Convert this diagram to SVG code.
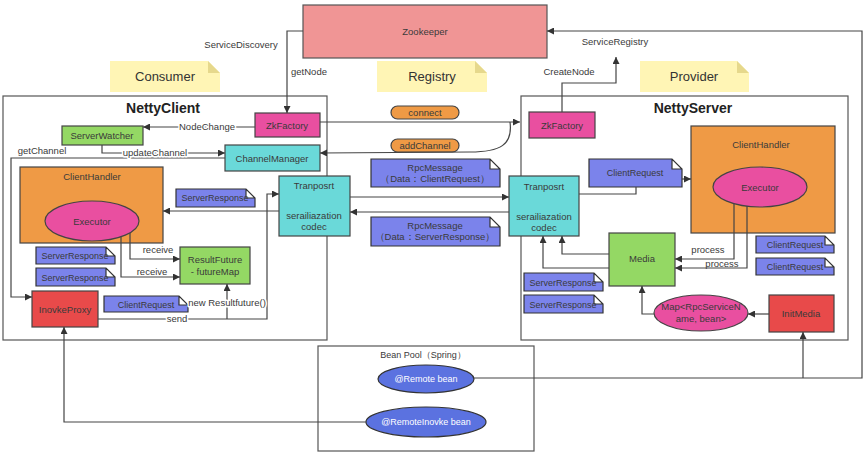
<svg xmlns="http://www.w3.org/2000/svg" width="865" height="455" viewBox="0 0 865 455">
<style>
text{font-family:"Liberation Sans",Arial,sans-serif;fill:#3a3a3a;font-size:9.5px;text-anchor:middle}
.t{font-size:14px;font-weight:bold;fill:#222}
.nt{font-size:13px;fill:#333}
.lbl{paint-order:stroke;stroke:#fff;stroke-width:3px;stroke-linejoin:round}
.sm{font-size:9px}
.wt{fill:#fff}
.box{fill:#fff;stroke:#555;stroke-width:1.2}
.zk{fill:#f09595;stroke:#555;stroke-width:1.2}
.pink{fill:#e94fa0;stroke:#444;stroke-width:1.2}
.green{fill:#94d864;stroke:#444;stroke-width:1.2}
.cyan{fill:#6ad9d9;stroke:#444;stroke-width:1.2}
.orange{fill:#ef9a45;stroke:#444;stroke-width:1.2}
.red{fill:#e84a4a;stroke:#444;stroke-width:1.2}
.bean{fill:#5b72e0;stroke:#333;stroke-width:1.2}
.note{fill:#7b83eb;stroke:#333;stroke-width:1.2}
.ynote{fill:#fff5b5}
.yfold{fill:#e6d88c}
.c{fill:none;stroke:#444;stroke-width:1.2}
.ca{fill:none;stroke:#444;stroke-width:1.2;marker-end:url(#arr)}
</style>
<defs>
<marker id="arr" viewBox="0 0 10 10" refX="10" refY="5" markerWidth="8" markerHeight="7" orient="auto" markerUnits="userSpaceOnUse"><path d="M0,0 L10,5 L0,10 z" fill="#333"/></marker>
</defs>
<rect width="865" height="455" fill="#fff"/>

<!-- containers -->
<g id="nettyClient"><rect class="box" x="3" y="96" width="324" height="244"/><text class="t" x="163" y="113">NettyClient</text></g>
<g id="nettyServer"><rect class="box" x="521" y="96" width="327" height="244"/><text class="t" x="693" y="113">NettyServer</text></g>
<g id="beanPool"><rect class="box" x="318" y="346" width="216" height="105"/><text class="sm" x="423" y="358">Bean Pool（Spring）</text></g>

<!-- yellow notes -->
<g id="consumer"><path class="ynote" d="M110 61 H208 L220 73 V92 H110 Z"/><path class="yfold" d="M208 61 L220 73 H208 Z"/><text class="nt" x="165" y="81">Consumer</text></g>
<g id="registry"><path class="ynote" d="M377 61 H475 L487 73 V92 H377 Z"/><path class="yfold" d="M475 61 L487 73 H475 Z"/><text class="nt" x="432" y="81">Registry</text></g>
<g id="provider"><path class="ynote" d="M640 61 H737 L749 73 V92 H640 Z"/><path class="yfold" d="M737 61 L749 73 H737 Z"/><text class="nt" x="694" y="81">Provider</text></g>

<g id="zookeeper"><rect class="zk" x="303" y="5" width="244" height="53"/><text x="425" y="35">Zookeeper</text></g>

<!-- consumer side -->
<g id="zkFactoryL"><rect class="pink" x="255" y="113" width="65" height="24"/><text x="287" y="128.5">ZkFactory</text></g>
<g id="serverWatcher"><rect class="green" x="62" y="126" width="81" height="19"/><text x="102" y="139">ServerWatcher</text></g>
<g id="channelManager"><rect class="cyan" x="225" y="145" width="95" height="26"/><text x="272" y="162">ChannelManager</text></g>
<g id="clientHandlerL"><rect class="orange" x="20" y="167" width="143" height="76"/><text x="92" y="180">ClientHandler</text></g>
<g id="executorL"><ellipse class="pink" cx="92" cy="221" rx="47" ry="20"/><text x="92" y="224.5">Executor</text></g>
<g id="resultFuture"><rect class="green" x="180" y="247" width="70" height="37"/><text x="215" y="263">ResultFuture</text><text x="215" y="275">- futureMap</text></g>
<g id="inovkeProxy"><rect class="red" x="32" y="291" width="66" height="36"/><text x="65" y="312.5">InovkeProxy</text></g>
<g id="tranposrtL"><rect class="cyan" x="279" y="176" width="71" height="60"/><text x="314" y="189">Tranposrt</text><text x="314" y="219">serailiazation</text><text x="314" y="230">codec</text></g>

<!-- provider side -->
<g id="zkFactoryR"><rect class="pink" x="529" y="112" width="66" height="26"/><text x="562" y="128.5">ZkFactory</text></g>
<g id="clientHandlerR"><rect class="orange" x="691" y="126" width="144" height="107"/><text x="761" y="148">ClientHandler</text></g>
<g id="executorR"><ellipse class="pink" cx="760" cy="187" rx="47" ry="20"/><text x="760" y="190.5">Executor</text></g>
<g id="tranposrtR"><rect class="cyan" x="509" y="176" width="70" height="60"/><text x="544" y="190">Tranposrt</text><text x="544" y="220">serailiazation</text><text x="544" y="231">codec</text></g>
<g id="media"><rect class="green" x="609" y="233" width="66" height="53"/><text x="642" y="262">Media</text></g>
<g id="mapNode"><ellipse class="pink" cx="701" cy="313" rx="47" ry="18"/><text x="701" y="310">Map&lt;RpcServiceN</text><text x="701" y="322">ame, bean&gt;</text></g>
<g id="initMedia"><rect class="red" x="769" y="295" width="65" height="37"/><text x="801" y="317">InitMedia</text></g>

<!-- bean pool -->
<g id="remoteBean"><ellipse class="bean" cx="426" cy="379" rx="48" ry="14"/><text class="wt sm" x="426" y="382">@Remote bean</text></g>
<g id="remoteInovkeBean"><ellipse class="bean" cx="426" cy="422" rx="60" ry="15"/><text class="wt sm" x="426" y="425">@RemoteInovke bean</text></g>

<!-- pills -->
<g id="connectPill"><rect x="391" y="106" width="68" height="13" rx="6.5" fill="#ef9a45" stroke="#444" stroke-width="1.2"/><text x="425" y="116">connect</text></g>
<g id="addChannelPill"><rect x="391" y="139" width="68" height="13" rx="6.5" fill="#ef9a45" stroke="#444" stroke-width="1.2"/><text x="425" y="149">addChannel</text></g>

<!-- blue notes -->
<g id="noteSR1"><path class="note" d="M176 189 H246 L255 198 V207 H176 Z M246 189 V198 H255"/><text class="sm" x="215" y="201">ServerResponse</text></g>
<g id="noteSR2"><path class="note" d="M36 247 H106 L115 256 V264 H36 Z M106 247 V256 H115"/><text class="sm" x="75" y="259">ServerResponse</text></g>
<g id="noteSR3"><path class="note" d="M36 268 H106 L115 277 V286 H36 Z M106 268 V277 H115"/><text class="sm" x="75" y="280.5">ServerResponse</text></g>
<g id="noteCR1"><path class="note" d="M104 296 H179 L188 305 V312 H104 Z M179 296 V305 H188"/><text class="sm" x="146" y="307.5">ClientRequest</text></g>
<g id="rpcCR"><path class="note" d="M371 159 H490 L500 169 V187 H371 Z M490 159 V169 H500"/><text x="435" y="171">RpcMessage</text><text x="435" y="182">（Data：ClientRequest）</text></g>
<g id="rpcSR"><path class="note" d="M371 217 H490 L500 227 V246 H371 Z M490 217 V227 H500"/><text x="435" y="229">RpcMessage</text><text x="435" y="240">（Data：ServerResponse）</text></g>
<g id="noteCR2"><path class="note" d="M589 159 H672 L682 169 V187 H589 Z M672 159 V169 H682"/><text class="sm" x="635" y="176">ClientRequest</text></g>
<g id="noteCR3"><path class="note" d="M756 236 H825 L834 245 V253 H756 Z M825 236 V245 H834"/><text class="sm" x="795" y="248">ClientRequest</text></g>
<g id="noteCR4"><path class="note" d="M756 258 H825 L834 267 V275 H756 Z M825 258 V267 H834"/><text class="sm" x="795" y="270">ClientRequest</text></g>
<g id="noteSR4"><path class="note" d="M524 273 H594 L603 282 V291 H524 Z M594 273 V282 H603"/><text class="sm" x="563" y="285.5">ServerResponse</text></g>
<g id="noteSR5"><path class="note" d="M524 295 H594 L603 304 V313 H524 Z M594 295 V304 H603"/><text class="sm" x="563" y="307.5">ServerResponse</text></g>

<!-- connectors -->
<g id="connectors">
<path class="ca" d="M303 31 H287 V113"/>
<path class="ca" d="M255 127 H143"/>
<path class="ca" d="M102 145 V153 H225"/>
<path class="ca" d="M225 158 H11 V297 H32"/>
<path class="ca" d="M320 122 H520"/>
<path class="ca" d="M510 122 C513 145 500 152 470 152 L320 153"/>
<path class="ca" d="M350 197 H509"/>
<path class="ca" d="M509 212 H350"/>
<path class="ca" d="M279 211 H163"/>
<path class="ca" d="M98 319 H267 V194 H279"/>
<path class="ca" d="M227 319 V284"/>
<path class="ca" d="M130 233 V259 H180"/>
<path class="ca" d="M121 237 V277 H180"/>
<path class="c" d="M579 194 H636 V187"/>
<path class="ca" d="M682 179 H691"/>
<path class="ca" d="M734 204 V259 H675"/>
<path class="ca" d="M747 206 V268 H675"/>
<path class="ca" d="M609 254 H562 V236"/>
<path class="ca" d="M609 268 H543 V236"/>
<path class="ca" d="M769 314 H748"/>
<path class="ca" d="M654 314 H642 V286"/>
<path class="ca" d="M474 378 H862 V31 H547"/>
<path class="ca" d="M803 378 V332"/>
<path class="ca" d="M562 112 V83 H616 V57"/>
<path class="ca" d="M366 422 H64 V327"/>
<text x="241" y="48">ServiceDiscovery</text>
<text x="309" y="75">getNode</text>
<text class="lbl" x="207" y="130">NodeChange</text>
<text class="lbl" x="155" y="156">updateChannel</text>
<text x="42" y="154">getChannel</text>
<text x="158" y="253">receive</text>
<text x="152" y="275">receive</text>
<text class="lbl" x="177" y="322">send</text>
<text class="lbl" x="227" y="306">new Resultfuture()</text>
<text x="708" y="253">process</text>
<text x="722" y="267">process</text>
<text x="569" y="75">CreateNode</text>
<text x="615" y="45">ServiceRegistry</text>
</g>
</svg>
